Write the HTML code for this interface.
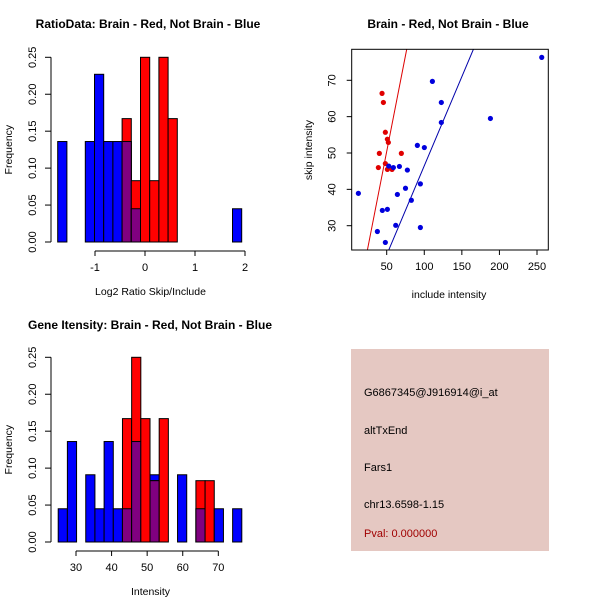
<!DOCTYPE html>
<html><head><meta charset="utf-8"><style>
body{margin:0;background:#fff;}
svg{display:block;font-family:"Liberation Sans",sans-serif;}
</style></head><body>
<svg id="c" width="600" height="600" xmlns="http://www.w3.org/2000/svg">
<rect x="351" y="349" width="198" height="202" fill="#e5c8c2"/>
<g font-size="11" fill="#000">
<text x="364" y="396">G6867345@J916914@i_at</text>
<text x="364" y="434">altTxEnd</text>
<text x="364" y="471">Fars1</text>
<text x="364" y="508">chr13.6598-1.15</text>
<text x="364" y="537" fill="#a00000">Pval: 0.000000</text>
</g>
</svg>
<script>
// Ratio histogram data
const ratioStart=-1.746, ratioWidth=0.184;
const ratioBlue=[0.136,0,0,0.136,0.227,0.136,0.136,0.136,0.045,0,0,0,0,0,0,0,0,0,0,0.045];
const ratioRed=[0,0,0,0,0,0,0,0.167,0.083,0.25,0.083,0.25,0.167,0,0,0,0,0,0,0];
const ratioTicks=[-1,0,1,2];
// Intensity histogram data
const intStart=25.0, intWidth=2.58;
const intBlue=[0.045,0.136,0,0.091,0.045,0.136,0.045,0.045,0.136,0,0.091,0,0,0.091,0,0.045,0,0.045,0,0.045];
const intRed=[0,0,0,0,0,0,0,0.167,0.25,0.167,0.083,0.167,0,0,0,0.083,0.083,0,0,0];
const intTicks=[30,40,50,60,70];
const freqTicks=["0.00","0.05","0.10","0.15","0.20","0.25"];
// Scatter data
const redX=[43.8,45.6,48.2,50.9,52.2,40.2,69.5,48.2,38.9,50.9,57.1];
const redY=[66.4,63.9,55.7,53.8,52.9,49.9,49.9,47.1,46.0,45.5,45.5];
const blueX=[256.3,110.8,122.7,122.7,188,90.8,100.1,52.7,58.9,66.9,77.5,75,94.8,64.2,82.8,12.3,44.2,50.9,62,94.8,37.6,48.2];
const blueY=[76.3,69.7,63.9,58.4,59.5,52.1,51.5,46.4,46.0,46.3,45.3,40.3,41.5,38.6,37.0,38.9,34.2,34.5,30.1,29.5,28.4,25.4];
const redLine=[[24.3,23.3],[76.6,78.5]];
const blueLine=[[52.7,23.3],[165.3,78.5]];
const scX=[50,100,150,200,250], scY=[30,40,50,60,70];

const svg=document.getElementById('c');
const NS='http://www.w3.org/2000/svg';
function mk(t,a,txt){const e=document.createElementNS(NS,t);for(const k in a)e.setAttribute(k,a[k]);if(txt!==undefined)e.textContent=txt;svg.appendChild(e);return e;}

function hist(opt){
  const {start,w,blue,red,xv,y0,xt,title,xlab,pfx,titleX,titleY}=opt;
  const yv=v=>y0-v*184.7/0.25;
  for(let i=0;i<blue.length;i++){
    const b=blue[i],r=red[i];
    const x1=xv(start+i*w),x2=xv(start+(i+1)*w);
    if(b>0){const e=mk('rect',{x:x1,y:yv(b),width:x2-x1,height:y0-yv(b),fill:'#0000ff',stroke:'#000','stroke-width':1});
      
      }
    if(r>0){const e=mk('rect',{x:x1,y:yv(r),width:x2-x1,height:y0-yv(r),fill:'#ff0000',stroke:'#000','stroke-width':1});
      
      }
    if(r>0&&b>0){const m=Math.min(r,b);const e=mk('rect',{x:x1,y:yv(m),width:x2-x1,height:y0-yv(m),fill:'#800080',stroke:'#000','stroke-width':1});
      
      }
  }
  let e=mk('line',{x1:51,x2:51,y1:yv(0),y2:yv(0.25),stroke:'#000'});
  
  
  freqTicks.forEach(t=>{const y=yv(parseFloat(t));mk('line',{x1:45,x2:51,y1:y,y2:y,stroke:'#000'});
    const l=mk('text',{x:36,y:y,'font-size':11,'text-anchor':'middle',transform:`rotate(-90 36 ${y})`},t);
    
    });
  const ax=y0+9;
  e=mk('line',{x1:xv(xt[0]),x2:xv(xt[xt.length-1]),y1:ax,y2:ax,stroke:'#000'});
  
  
  xt.forEach(t=>{const x=xv(t);mk('line',{x1:x,x2:x,y1:ax,y2:ax+5,stroke:'#000'});
    const l=mk('text',{x:x,y:ax+20,'font-size':11,'text-anchor':'middle'},String(t));
    
    });
  e=mk('text',{x:(51+250)/2,y:ax+44,'font-size':10.5,'text-anchor':'middle'},xlab);
  
  
  e=mk('text',{x:12,y:yv(0.125),'font-size':10.5,'text-anchor':'middle',transform:`rotate(-90 12 ${yv(0.125)})`},'Frequency');
  
  
  e=mk('text',{x:titleX,y:titleY,'font-size':12,'font-weight':'bold','text-anchor':'middle'},title);
  
  
}
hist({start:ratioStart,w:ratioWidth,blue:ratioBlue,red:ratioRed,xv:v=>145+50*v,y0:242,xt:ratioTicks,
  title:'RatioData: Brain - Red, Not Brain - Blue',xlab:'Log2 Ratio Skip/Include',pfx:'ratio',titleX:148,titleY:28});
hist({start:intStart,w:intWidth,blue:intBlue,red:intRed,xv:v=>76+(v-30)*3.558,y0:542,xt:intTicks,
  title:'Gene Itensity: Brain - Red, Not Brain - Blue',xlab:'Intensity',pfx:'intensity',titleX:150,titleY:329});

const sx=v=>386.7+(v-50)*0.7515, sy=v=>225.7-(v-30)*3.635;
const L=351.7,R=548.3,T=49.3,B=250;
mk('clipPath',{id:'clp'});
const cp=svg.lastChild;const cr=document.createElementNS(NS,'rect');
cr.setAttribute('x',L);cr.setAttribute('y',T);cr.setAttribute('width',R-L);cr.setAttribute('height',B-T);cp.appendChild(cr);
let e=mk('line',{x1:sx(redLine[0][0]),y1:sy(redLine[0][1]),x2:sx(redLine[1][0]),y2:sy(redLine[1][1]),stroke:'#dd0000','clip-path':'url(#clp)'});


e=mk('line',{x1:sx(blueLine[0][0]),y1:sy(blueLine[0][1]),x2:sx(blueLine[1][0]),y2:sy(blueLine[1][1]),stroke:'#0000aa','clip-path':'url(#clp)'});


redX.forEach((x,i)=>{const p=mk('circle',{cx:sx(x),cy:sy(redY[i]),r:2.6,fill:'#e00000'});
  
  });
blueX.forEach((x,i)=>{const p=mk('circle',{cx:sx(x),cy:sy(blueY[i]),r:2.6,fill:'#0000dd'});
  
  });
e=mk('rect',{x:L,y:T,width:R-L,height:B-T,fill:'none',stroke:'#000'});


scX.forEach(t=>{const x=sx(t);mk('line',{x1:x,x2:x,y1:B,y2:B+5,stroke:'#000'});
  const l=mk('text',{x:x,y:B+20,'font-size':11,'text-anchor':'middle'},String(t));
  
  });
scY.forEach(t=>{const y=sy(t);mk('line',{x1:L-5,x2:L,y1:y,y2:y,stroke:'#000'});
  const l=mk('text',{x:L-16,y:y,'font-size':11,'text-anchor':'middle',transform:`rotate(-90 ${L-16} ${y})`},String(t));
  
  });
e=mk('text',{x:449,y:298,'font-size':10.5,'text-anchor':'middle'},'include intensity');


e=mk('text',{x:312,y:150,'font-size':10.5,'text-anchor':'middle',transform:'rotate(-90 312 150)'},'skip intensity');


e=mk('text',{x:448,y:28,'font-size':12,'font-weight':'bold','text-anchor':'middle'},'Brain - Red, Not Brain - Blue');


</script>
</body></html>
